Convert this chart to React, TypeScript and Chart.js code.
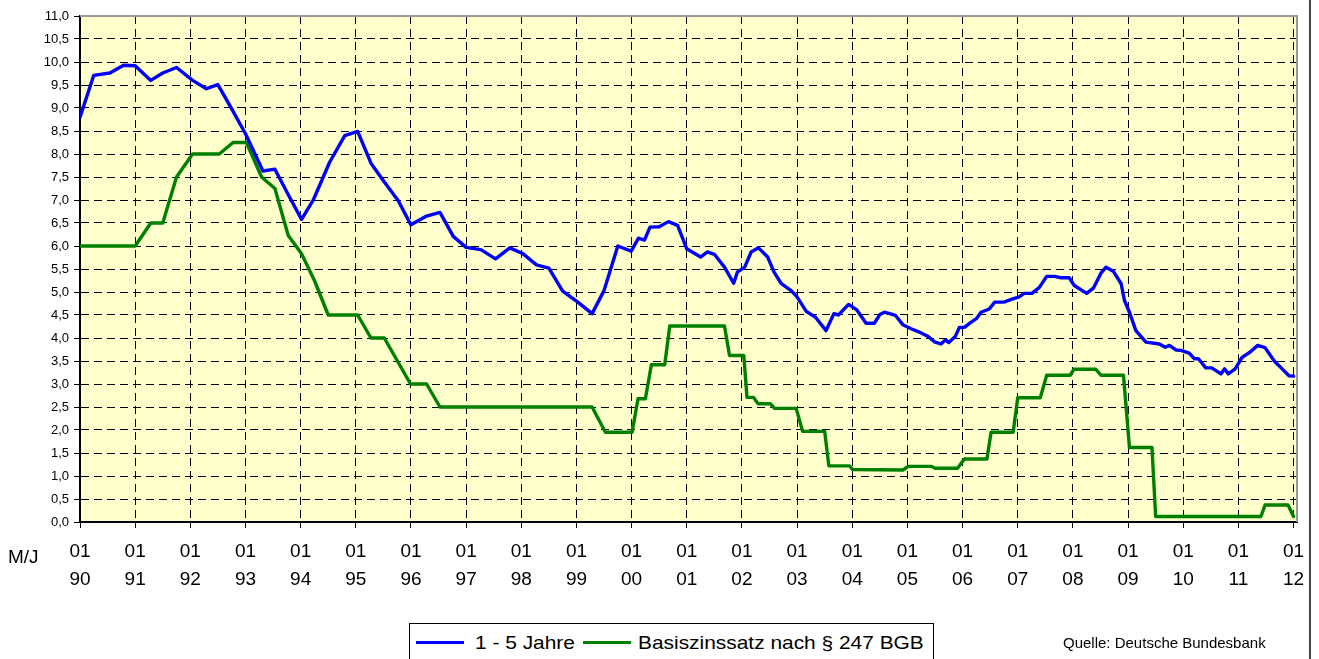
import React, { useEffect, useRef } from "react";
import { Chart, registerables } from "chart.js";

Chart.register(...registerables);

// ---- Data (x = months since 01/1990) ----
const yearLabels = ["90", "91", "92", "93", "94", "95", "96", "97", "98", "99", "00", "01", "02", "03", "04", "05", "06", "07", "08", "09", "10", "11", "12"];
const yearTickMonths = [0, 12, 24, 36, 48, 60, 72, 84, 96, 108, 120, 132, 144, 156, 168, 180, 192, 204, 216, 228, 240, 252, 264];
const yTickValues = [0, 0.5, 1, 1.5, 2, 2.5, 3, 3.5, 4, 4.5, 5, 5.5, 6, 6.5, 7, 7.5, 8, 8.5, 9, 9.5, 10, 10.5, 11];

const seriesNames = ["1 - 5 Jahre", "Basiszinssatz nach § 247 BGB"];

const blueMonths = [
  0, 3, 6.5, 9.5, 12, 15.4, 18, 21, 24.5, 27.5, 30, 33, 36, 39.8, 42.4, 45.6, 48.2, 50.7, 54.3, 57.6,
  60.4, 63.3, 66, 69.2, 72, 75.4, 78.3, 81.2, 84, 87.2, 90.4, 93.5, 96.4, 99.3, 102, 105, 108.3, 111.4, 114, 117,
  119.9, 121.5, 122.8, 124, 126, 128, 130, 132, 135, 136.5, 138, 140.2, 142.2, 143, 144.6, 146, 147.6, 149.6, 151, 152.5,
  154.7, 155.8, 158, 160, 162.3, 164, 165, 167.2, 169, 171, 172.8, 174, 175, 177.4, 179, 180.8, 183, 184.4, 186, 187.3,
  188.3, 189, 190.4, 191.3, 192.4, 193.8, 195, 196, 197.8, 199, 201, 202.9, 204.2, 205.4, 207.1, 208.7, 210.3, 212, 213.4, 215.2,
  216.3, 219, 220.5, 222.1, 223.2, 224.8, 226.5, 227.2, 228.3, 229.7, 231.9, 234.8, 236.1, 237, 238.4, 239.5, 241.3, 242.4, 243.3, 244.9,
  246.2, 248.2, 249, 249.8, 251.3, 252.8, 254.5, 256.2, 257.8, 259.8, 261.3, 263, 264,
];
const blueValues = [
  8.8, 9.71, 9.76, 9.93, 9.92, 9.6, 9.76, 9.88, 9.6, 9.42, 9.51, 8.98, 8.44, 7.63, 7.67, 7.06, 6.58, 6.99, 7.82, 8.4,
  8.49, 7.8, 7.42, 6.99, 6.46, 6.65, 6.73, 6.21, 5.97, 5.92, 5.72, 5.96, 5.83, 5.59, 5.52, 5.02, 4.78, 4.53, 5.03, 6.0,
  5.89, 6.17, 6.13, 6.41, 6.42, 6.53, 6.45, 5.94, 5.76, 5.87, 5.82, 5.54, 5.19, 5.43, 5.54, 5.87, 5.96, 5.76, 5.43, 5.19,
  5.03, 4.92, 4.58, 4.45, 4.16, 4.53, 4.5, 4.73, 4.61, 4.32, 4.32, 4.51, 4.56, 4.49, 4.29, 4.2, 4.11, 4.04, 3.91, 3.87,
  3.96, 3.9, 4.03, 4.23, 4.23, 4.34, 4.42, 4.56, 4.63, 4.78, 4.78, 4.85, 4.89, 4.97, 4.97, 5.1, 5.34, 5.34, 5.31, 5.31,
  5.14, 4.97, 5.09, 5.41, 5.54, 5.45, 5.18, 4.82, 4.56, 4.16, 3.91, 3.87, 3.8, 3.84, 3.74, 3.73, 3.67, 3.55, 3.55, 3.35,
  3.35, 3.22, 3.33, 3.22, 3.33, 3.58, 3.69, 3.84, 3.79, 3.5, 3.35, 3.18, 3.17,
];

const greenMonths = [
  0, 12, 15.4, 18, 21, 24.5, 30.3, 33.3, 36.2, 39.5, 42.4, 45.3, 48.2, 51, 54, 60.4, 63.3, 66.2, 71.9, 75.4,
  78.3, 111.4, 114.3, 120.1, 121.4, 123, 124.3, 127.2, 128.3, 140.2, 141.3, 144.4, 145.1, 146.5, 147.5, 150.2, 151.1, 155.8, 157.2, 162,
  162.9, 167.4, 168.1, 179, 180.2, 185.2, 186, 190.9, 192.4, 197.3, 198.2, 203, 204, 208.9, 210.3, 215.4, 216.2, 221, 222.1, 227,
  228.3, 233.2, 234, 256.9, 257.8, 262.8, 264,
];
const greenValues = [
  6.0, 6.0, 6.5, 6.5, 7.5, 8.0, 8.0, 8.25, 8.25, 7.5, 7.25, 6.23, 5.83, 5.25, 4.5, 4.5, 4.0, 4.0, 3.0, 3.0,
  2.5, 2.5, 1.95, 1.95, 2.68, 2.68, 3.42, 3.42, 4.26, 4.26, 3.62, 3.62, 2.71, 2.71, 2.57, 2.57, 2.47, 2.47, 1.97, 1.97,
  1.22, 1.22, 1.14, 1.13, 1.21, 1.21, 1.17, 1.17, 1.37, 1.37, 1.95, 1.95, 2.7, 2.7, 3.19, 3.19, 3.32, 3.32, 3.19, 3.19,
  1.62, 1.62, 0.12, 0.12, 0.37, 0.37, 0.12,
];

const FONT = "'Liberation Sans', Arial, Helvetica, sans-serif";

const plotFramePlugin = {
  id: "plotFrame",
  beforeDraw(chart: any) {
    const { ctx, chartArea: a } = chart;
    ctx.save();
    ctx.fillStyle = "#FFFFCC";
    ctx.fillRect(a.left, a.top, a.right - a.left, a.bottom - a.top);
    ctx.restore();
  },
  beforeDatasetsDraw(chart: any) {
    const { ctx, chartArea: a } = chart;
    ctx.save();
    ctx.strokeStyle = "#9a9a9a";
    ctx.lineWidth = 2;
    ctx.beginPath();
    ctx.moveTo(a.left, a.top);
    ctx.lineTo(a.right, a.top);
    ctx.lineTo(a.right, a.bottom);
    ctx.stroke();
    ctx.restore();
  },
};

export default function App() {
  const canvasRef = useRef<HTMLCanvasElement | null>(null);

  useEffect(() => {
    document.body.style.margin = "0";
    const canvas = canvasRef.current;
    if (!canvas) return;
    const chart = new Chart(canvas, {
      type: "line",
      data: {
        datasets: [
          {
            label: seriesNames[0],
            data: blueMonths.map((m, i) => ({ x: m, y: blueValues[i] })),
            borderColor: "#0000FF",
            backgroundColor: "#0000FF",
            borderWidth: 3.4,
            pointRadius: 0,
            tension: 0,
            fill: false,
            borderJoinStyle: "round",
            borderCapStyle: "round",
          },
          {
            label: seriesNames[1],
            data: greenMonths.map((m, i) => ({ x: m, y: greenValues[i] })),
            borderColor: "#008000",
            backgroundColor: "#008000",
            borderWidth: 3.4,
            pointRadius: 0,
            tension: 0,
            fill: false,
            borderJoinStyle: "round",
            borderCapStyle: "round",
          },
        ],
      },
      options: {
        responsive: false,
        animation: false,
        events: [],
        layout: { padding: { top: 16, right: 22, bottom: 0, left: 0 } },
        plugins: {
          legend: { display: false },
          tooltip: { enabled: false },
          title: { display: false },
        },
        scales: {
          x: {
            type: "linear",
            min: 0,
            max: 264.75,
            afterBuildTicks: (s: any) => {
              s.ticks = yearTickMonths.map((v) => ({ value: v }));
            },
            afterFit: (s: any) => {
              s.height = 137;
            },
            grid: {
              color: "#000",
              lineWidth: 1,
              drawTicks: true,
              tickLength: 6,
              tickColor: "#000",
              tickWidth: 1,
              tickBorderDash: [],
            },
            border: { display: true, color: "#000", width: 2, dash: [8, 5] },
            ticks: {
              autoSkip: false,
              maxRotation: 0,
              minRotation: 0,
              padding: 9.5,
              color: "#000",
              font: { family: FONT, size: 19, lineHeight: 28 / 19 },
              callback: (v: any) => {
                const i = yearTickMonths.indexOf(Number(v));
                return ["01", yearLabels[i] ?? ""];
              },
            },
          },
          y: {
            type: "linear",
            min: 0,
            max: 11,
            afterBuildTicks: (s: any) => {
              s.ticks = yTickValues.map((v) => ({ value: v }));
            },
            afterFit: (s: any) => {
              s.width = 80;
            },
            grid: {
              color: "#000",
              lineWidth: 1,
              drawTicks: true,
              tickLength: 6,
              tickColor: "#000",
              tickWidth: 1,
              tickBorderDash: [],
            },
            border: { display: true, color: "#000", width: 2, dash: [8, 5] },
            ticks: {
              autoSkip: false,
              padding: 5,
              color: "#000",
              font: { family: FONT, size: 13 },
              callback: (v: any) => Number(v).toFixed(1).replace(".", ","),
            },
          },
        },
      },
      plugins: [plotFramePlugin],
    } as any);
    return () => chart.destroy();
  }, []);

  const textBase: React.CSSProperties = {
    position: "absolute",
    fontFamily: FONT,
    color: "#000",
    whiteSpace: "nowrap",
  };

  return (
    <div style={{ position: "relative", width: 1319, height: 659, overflow: "hidden", background: "#fff" }}>
      <canvas ref={canvasRef} width={1319} height={659} style={{ position: "absolute", left: 0, top: 0, width: 1319, height: 659 }} />
      <div style={{ ...textBase, left: 8, top: 545, height: 24, lineHeight: "24px", fontSize: 19 }}>M/J</div>
      <div
        style={{
          position: "absolute",
          left: 409,
          top: 623,
          width: 525,
          height: 60,
          border: "1px solid #000",
          boxSizing: "border-box",
          background: "#fff",
        }}
      />
      <div style={{ position: "absolute", left: 416, top: 641, width: 48, height: 3, background: "#0000FF" }} />
      <div style={{ ...textBase, left: 475, top: 630, height: 26, lineHeight: "26px", fontSize: 19, transform: "scaleX(1.1)", transformOrigin: "left center" }}>
        {seriesNames[0]}
      </div>
      <div style={{ position: "absolute", left: 583, top: 641, width: 48, height: 3, background: "#008000" }} />
      <div style={{ ...textBase, left: 638, top: 630, height: 26, lineHeight: "26px", fontSize: 19, transform: "scaleX(1.1)", transformOrigin: "left center" }}>
        {seriesNames[1]}
      </div>
      <div style={{ ...textBase, left: 1063, top: 633, height: 20, lineHeight: "20px", fontSize: 15 }}>Quelle: Deutsche Bundesbank</div>
      <div style={{ position: "absolute", left: 1309, top: 0, width: 2, height: 659, background: "#444" }} />
    </div>
  );
}
